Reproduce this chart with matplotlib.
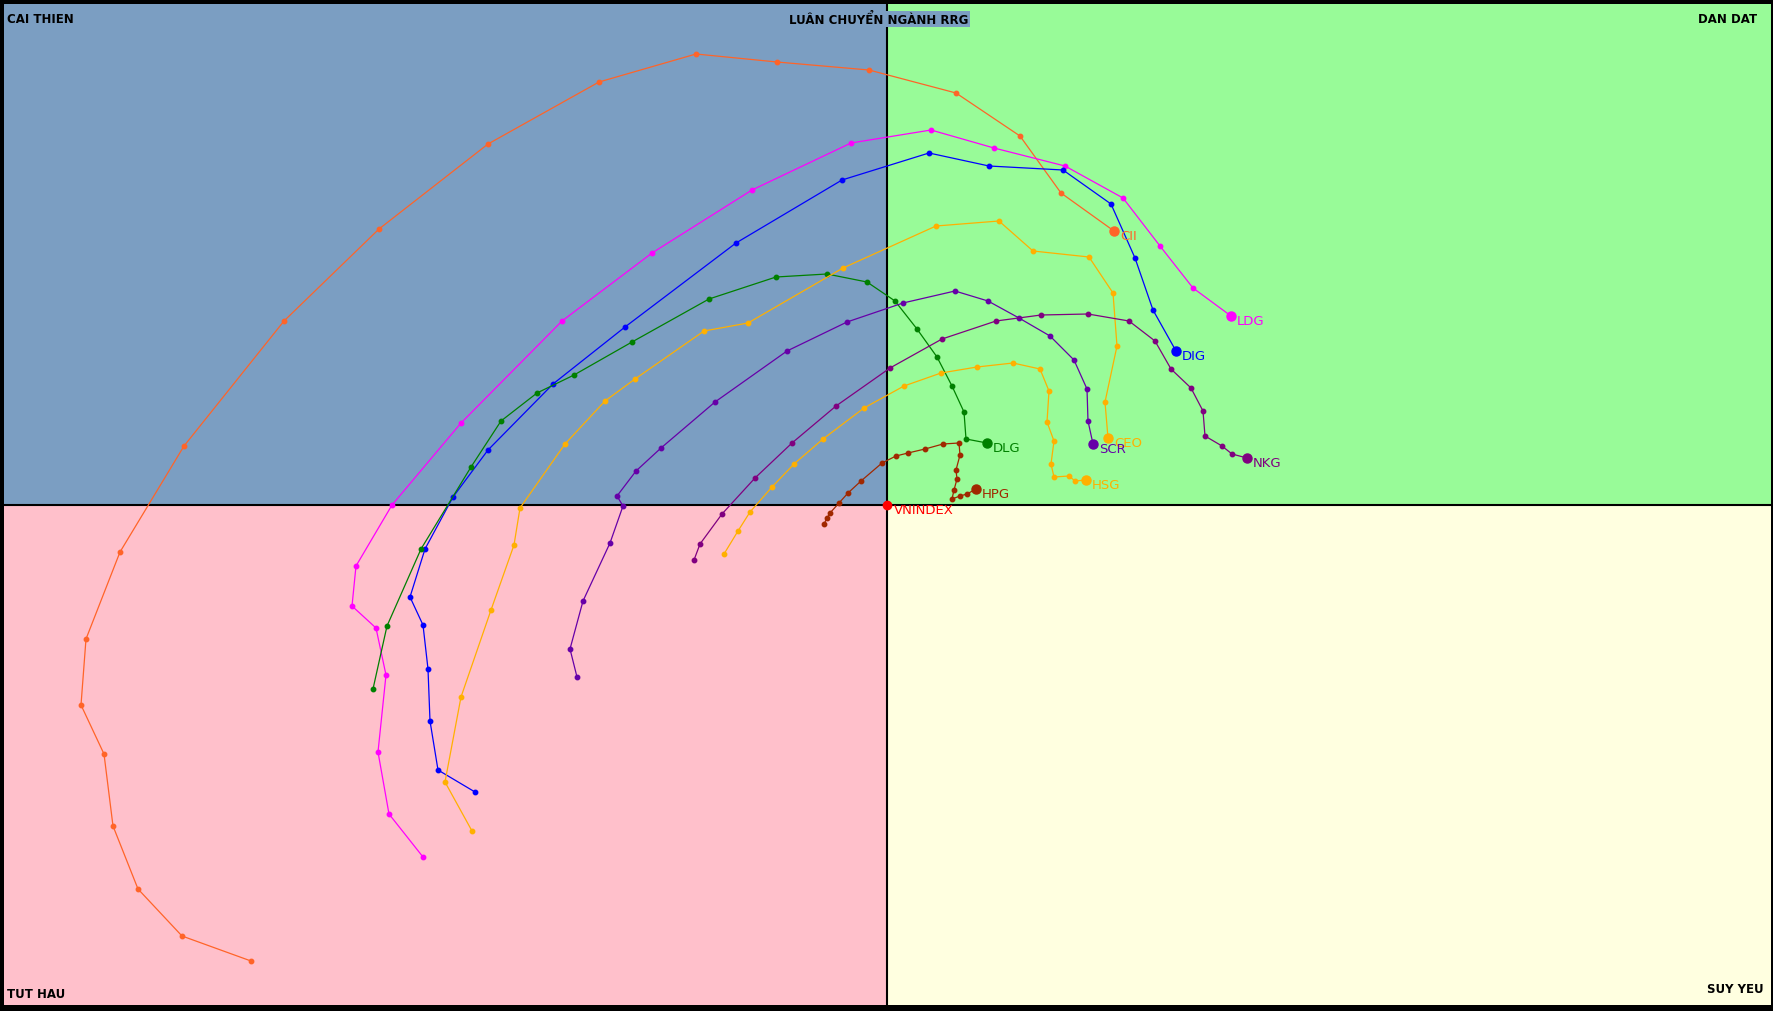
import matplotlib
matplotlib.use("Agg")
import matplotlib.pyplot as plt
from matplotlib.patches import Rectangle

# RRG tails (RS-Ratio, RS-Momentum), oldest -> newest
tickers = ["CII", "LDG", "DIG", "DLG", "CEO", "HSG", "SCR", "NKG", "HPG"]
colors = ["#FF6428", "#FF00FF", "#0000FF", "#008000", "#FFB000",
          "#FFB000", "#6600A8", "#800080", "#A02800"]

cii_x = [93.64, 92.95, 92.51, 92.26, 92.17, 91.94, 91.99, 92.33, 92.97, 93.97,
         94.92, 96.01, 97.12, 98.09, 98.90, 99.82, 100.69, 101.33, 101.74, 102.27]
cii_y = [95.44, 95.69, 96.16, 96.79, 97.51, 98.00, 98.66, 99.53, 100.59, 101.84,
         102.76, 103.61, 104.23, 104.51, 104.43, 104.35, 104.12, 103.69, 103.12, 102.74]

ldg_x = [95.36, 95.02, 94.91, 94.99, 94.89, 94.65, 94.69, 95.05, 95.74, 96.75,
         97.65, 98.65, 99.64, 100.44, 101.07, 101.78, 102.36, 102.73, 103.06, 103.44]
ldg_y = [96.48, 96.91, 97.53, 98.30, 98.77, 98.99, 99.39, 100.00, 100.82, 101.84,
         102.52, 103.15, 103.62, 103.75, 103.57, 103.39, 103.07, 102.59, 102.17, 101.89]

dig_x = [95.88, 95.51, 95.43, 95.41, 95.36, 95.23, 95.38, 95.66, 96.01, 96.66,
         97.38, 98.49, 99.55, 100.42, 101.02, 101.76, 102.24, 102.48, 102.66, 102.89]
dig_y = [97.13, 97.35, 97.84, 98.36, 98.80, 99.08, 99.56, 100.08, 100.55, 101.21,
         101.78, 102.62, 103.25, 103.52, 103.39, 103.35, 103.01, 102.47, 101.95, 101.54]

dlg_x = [94.86, 95.00, 95.34, 95.84, 96.14, 96.50, 96.87, 97.45, 98.22, 98.89,
         99.40, 99.80, 100.08, 100.30, 100.50, 100.65, 100.77, 100.79, 101.00]
dlg_y = [98.16, 98.79, 99.56, 100.38, 100.84, 101.12, 101.30, 101.63, 102.06, 102.28,
         102.31, 102.23, 102.04, 101.76, 101.48, 101.19, 100.93, 100.66, 100.62]

ceo_x = [95.85, 95.58, 95.74, 96.04, 96.27, 96.33, 96.78, 97.18, 97.48, 98.17,
         98.61, 99.56, 100.49, 101.12, 101.46, 102.02, 102.26, 102.30, 102.18, 102.21]
ceo_y = [96.74, 97.23, 98.08, 98.95, 99.60, 99.97, 100.61, 101.04, 101.26, 101.74,
         101.82, 102.37, 102.79, 102.84, 102.54, 102.48, 102.12, 101.59, 101.03, 100.67]

hsg_x = [98.37, 98.51, 98.63, 98.85, 99.07, 99.36, 99.77, 100.17, 100.54, 100.90,
         101.26, 101.53, 101.62, 101.60, 101.67, 101.64, 101.67, 101.82, 101.88, 101.99]
hsg_y = [99.51, 99.74, 99.93, 100.18, 100.41, 100.66, 100.97, 101.19, 101.32, 101.38,
         101.42, 101.36, 101.14, 100.83, 100.64, 100.41, 100.28, 100.29, 100.24, 100.25]

scr_x = [96.90, 96.83, 96.96, 97.23, 97.36, 97.30, 97.49, 97.74, 98.28, 99.00,
         99.60, 100.16, 100.68, 101.01, 101.32, 101.63, 101.87, 102.00, 102.01, 102.06]
scr_y = [98.28, 98.56, 99.04, 99.62, 99.99, 100.09, 100.34, 100.57, 101.03, 101.54,
         101.83, 102.02, 102.14, 102.04, 101.87, 101.69, 101.45, 101.16, 100.84, 100.61]

nkg_x = [98.07, 98.13, 98.35, 98.68, 99.05, 99.49, 100.03, 100.55, 101.09, 101.54,
         102.01, 102.42, 102.68, 102.84, 103.04, 103.16, 103.18, 103.35, 103.45, 103.60]
nkg_y = [99.45, 99.61, 99.91, 100.27, 100.62, 100.99, 101.37, 101.66, 101.84, 101.90,
         101.91, 101.84, 101.64, 101.36, 101.17, 100.94, 100.69, 100.59, 100.51, 100.47]

hpg_x = [99.37, 99.40, 99.43, 99.52, 99.61, 99.74, 99.95, 100.09, 100.21, 100.38,
         100.56, 100.72, 100.73, 100.69, 100.70, 100.67, 100.65, 100.73, 100.80, 100.89]
hpg_y = [99.81, 99.87, 99.92, 100.02, 100.12, 100.24, 100.42, 100.49, 100.52, 100.56,
         100.61, 100.62, 100.50, 100.35, 100.26, 100.15, 100.06, 100.09, 100.11, 100.16]

xs = [cii_x, ldg_x, dig_x, dlg_x, ceo_x, hsg_x, scr_x, nkg_x, hpg_x]
ys = [cii_y, ldg_y, dig_y, dlg_y, ceo_y, hsg_y, scr_y, nkg_y, hpg_y]

quadrant_labels = ["CAI THIEN", "DAN DAT", "TUT HAU", "SUY YEU"]
title = "LUÂN CHUYỂN NGÀNH RRG"
bench = "VNINDEX"

x0, x1 = 91.17, 108.84
y0, y1 = 95.00, 105.01

fig = plt.figure(figsize=(17.74, 10.12), dpi=100)
fig.patch.set_facecolor("black")
ax = fig.add_axes([4 / 1774, 6 / 1012, 1767 / 1774, 1001 / 1012])
ax.set_xlim(x0, x1)
ax.set_ylim(y0, y1)
ax.axis("off")

# quadrant backgrounds
ax.add_patch(Rectangle((x0, 100), 100 - x0, y1 - 100, color="#7B9EC2", zorder=0))
ax.add_patch(Rectangle((100, 100), x1 - 100, y1 - 100, color="#98FB98", zorder=0))
ax.add_patch(Rectangle((x0, y0), 100 - x0, 100 - y0, color="#FFC0CB", zorder=0))
ax.add_patch(Rectangle((100, y0), x1 - 100, 100 - y0, color="#FFFFE0", zorder=0))
ax.axhline(100, color="black", lw=1.5, zorder=1)
ax.axvline(100, color="black", lw=1.5, zorder=1)

for name, c, x, y in zip(tickers, colors, xs, ys):
    ax.plot(x, y, color=c, lw=0.9, marker="o", ms=3.2, zorder=3)
    ax.plot(x[-1], y[-1], "o", color=c, ms=6.5, zorder=4)
    ax.annotate(name, (x[-1], y[-1]), xytext=(6, -5), textcoords="offset pixels",
                color=c, fontsize=9.5, va="center", ha="left", zorder=5)

ax.plot(100, 100, "o", color="red", ms=6, zorder=5)
ax.annotate(bench, (100, 100), xytext=(7, -5), textcoords="offset pixels",
            color="red", fontsize=9.5, va="center", ha="left", zorder=5)

kw = dict(fontsize=8.5, fontweight="bold", color="black", xycoords="axes fraction",
          textcoords="offset pixels")
ax.annotate(quadrant_labels[0], (0, 1), xytext=(3, -8), va="top", ha="left", **kw)
ax.annotate(quadrant_labels[1], (1, 1), xytext=(-14, -8), va="top", ha="right", **kw)
ax.annotate(quadrant_labels[2], (0, 0), xytext=(3, 5), va="bottom", ha="left", **kw)
ax.annotate(quadrant_labels[3], (1, 0), xytext=(-7, 10), va="bottom", ha="right", **kw)
ax.annotate(title, (0.4952, 1), xytext=(0, -8), va="top", ha="center",
            bbox=dict(facecolor="#7B9EC2", edgecolor="none", pad=1), **kw)

fig.savefig("out.png", dpi=100, facecolor="black")
